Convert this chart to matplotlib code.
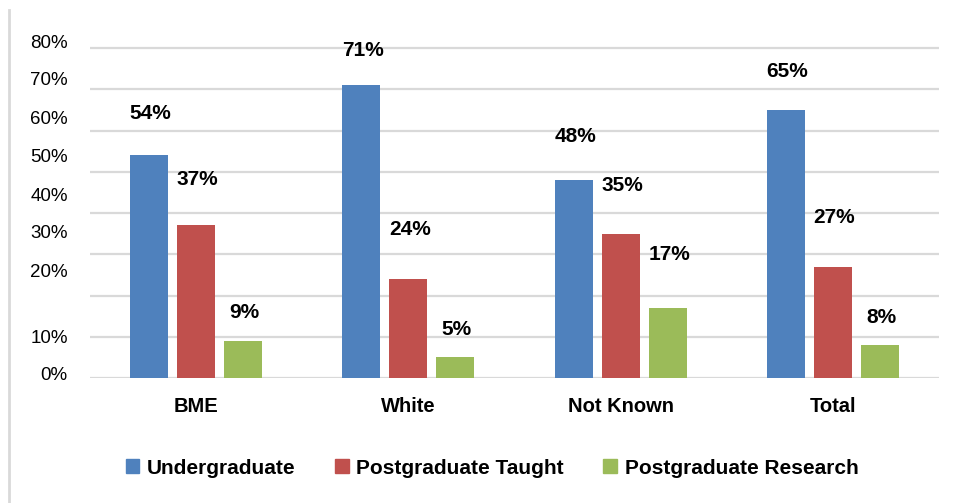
import numpy as np
import matplotlib; matplotlib.use("Agg")
import matplotlib.pyplot as plt
from matplotlib.lines import Line2D
from matplotlib.patches import Patch

plt.rcParams["font.family"] = ["Liberation Sans", "DejaVu Sans"]

categories = ["BME", "White", "Not Known", "Total"]
series = ["Undergraduate", "Postgraduate Taught", "Postgraduate Research"]
undergrad = [54, 71, 48, 65]
pg_taught = [37, 24, 35, 27]
pg_research = [9, 5, 17, 8]
# y-axis tick labels and where they sit in the original (slightly off the gridlines)
tick_labels = ["0%", "10%", "20%", "30%", "40%", "50%", "60%", "70%", "80%"]
tick_pos = [1.0, 10.0, 26.1, 35.4, 44.6, 53.9, 63.1, 72.6, 81.7]

colors = ["#4F81BD", "#C0504D", "#9BBB59"]
# label gap above each bar, pixels (per series, per category)
label_gap = [[42, 35, 44, 38], [46, 50, 48, 49], [28, 28, 53, 28]]

fig = plt.figure(figsize=(9.57, 5.03), dpi=100)
ax = fig.add_axes([90 / 957, 1 - 378 / 503, 849 / 957, 337 / 503])

x = np.arange(len(categories))
pitch, width = 0.2214, 0.179
for i, (vals, col) in enumerate(zip([undergrad, pg_taught, pg_research], colors)):
    xs = x + (i - 1) * pitch
    ax.bar(xs, vals, width=width, color=col, zorder=3)
    for j, (xx, v) in enumerate(zip(xs, vals)):
        ax.annotate(f"{v}%", (xx, v), xytext=(1, label_gap[i][j] * 0.72),
                    textcoords="offset points", ha="center", va="center",
                    fontsize=15, fontweight="bold", color="black")

ax.set_xlim(-0.5, 3.5)
ax.set_ylim(0, 80)
for g in range(0, 81, 10):
    ax.axhline(g, color="#d9d9d9", lw=1.6, zorder=1)

ax.set_yticks(tick_pos)
ax.set_yticklabels(tick_labels, fontsize=13.5, color="black")
ax.tick_params(axis="y", length=0, pad=16)
ax.set_xticks(x)
ax.set_xticklabels(categories, fontsize=14.5, fontweight="bold")
ax.tick_params(axis="x", length=0, pad=14)
for s in ax.spines.values():
    s.set_visible(False)

handles = [Patch(color=c) for c in colors]
fig.legend(handles, series, loc="center", bbox_to_anchor=(492 / 957, 1 - 468 / 503),
           ncol=3, frameon=False, prop={"size": 15, "weight": "bold"},
           handlelength=0.67, handleheight=0.67, handletextpad=0.35,
           columnspacing=1.9)

fig.add_artist(Line2D([9 / 957, 9 / 957], [0, 1 - 10 / 503], color="#d9d9d9", lw=2))

fig.savefig("out.png", dpi=100)
